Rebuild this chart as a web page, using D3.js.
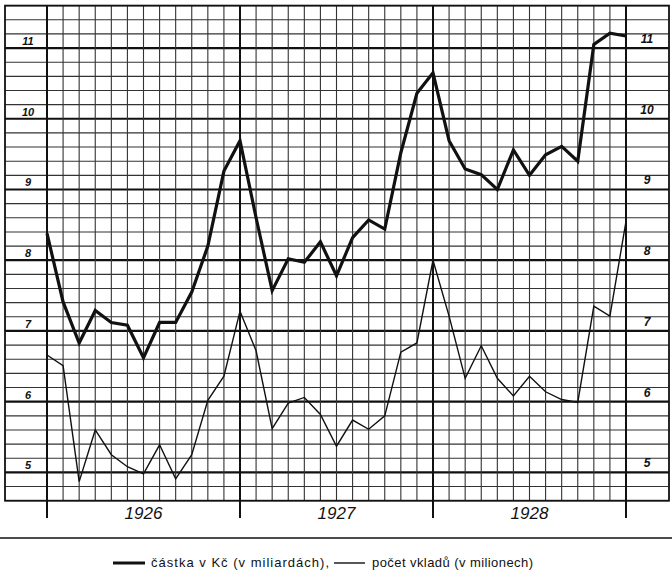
<!DOCTYPE html>
<html>
<head>
<meta charset="utf-8">
<script src="https://cdn.jsdelivr.net/npm/d3@7"></script>
<style>
  html, body { margin: 0; padding: 0; background: #fff; }
  svg { display: block; }
</style>
</head>
<body>
<svg id="chart" width="672" height="578"></svg>
<script>
// Monthly points, end of Dec 1925 .. end of Dec 1928 (37 points)
const years = ["1926", "1927", "1928"];
const amountBn = [8.38, 7.41, 6.83, 7.29, 7.12, 7.08, 6.62, 7.12, 7.12, 7.55, 8.20, 9.26,
                  9.69, 8.60, 7.57, 8.02, 7.97, 8.26, 7.78, 8.32, 8.57, 8.44, 9.52, 10.36,
                  10.65, 9.69, 9.29, 9.21, 9.00, 9.56, 9.20, 9.49, 9.61, 9.40, 11.05, 11.21,
                  11.17];
const depositsM = [6.66, 6.51, 4.87, 5.60, 5.25, 5.08, 4.98, 5.39, 4.91, 5.25, 6.02, 6.36,
                   7.28, 6.72, 5.62, 5.98, 6.06, 5.82, 5.37, 5.74, 5.61, 5.80, 6.70, 6.83,
                   8.00, 7.21, 6.33, 6.79, 6.33, 6.08, 6.36, 6.14, 6.03, 5.99, 7.35, 7.21,
                   8.55];
const yTicks = [5, 6, 7, 8, 9, 10, 11];
const legendLabels = ["částka v Kč (v miliardách),", "počet vkladů (v milionech)"];

const svg = d3.select("#chart");
const frameL = 5, frameR = 669;
const x = d3.scaleLinear().domain([0, 36]).range([47, 626]);
const y = d3.scaleLinear().domain([4.6, 11.6]).range([500.7, 5.6]);

const grid = svg.append("g");
// horizontal lines every 0.2
const hVals = d3.range(0, 36).map(k => +(4.6 + k * 0.2).toFixed(1));
grid.selectAll("line.h").data(hVals).enter().append("line")
  .attr("x1", frameL).attr("x2", frameR)
  .attr("y1", d => y(d)).attr("y2", d => y(d))
  .attr("stroke", d => Number.isInteger(d) ? "#111" : "#333")
  .attr("stroke-width", d => Number.isInteger(d) ? 2.2 : 1.1);

// vertical month lines
const vIdx = d3.range(0, 37);
grid.selectAll("line.v").data(vIdx).enter().append("line")
  .attr("x1", d => x(d)).attr("x2", d => x(d))
  .attr("y1", y(11.6))
  .attr("y2", d => d % 12 === 0 ? 518 : y(4.6))
  .attr("stroke", d => d % 12 === 0 ? "#111" : "#333")
  .attr("stroke-width", d => d % 12 === 0 ? 2 : 1.1);

// frame
grid.append("rect")
  .attr("x", frameL).attr("y", y(11.6))
  .attr("width", frameR - frameL).attr("height", y(4.6) - y(11.6))
  .attr("fill", "none").attr("stroke", "#111").attr("stroke-width", 1.8);

// axis labels left and right
const labelFont = "'Liberation Sans', Arial, sans-serif";
svg.append("g").selectAll("text").data(yTicks).enter().append("text")
  .attr("x", 28).attr("y", d => y(d) - 3)
  .attr("text-anchor", "middle")
  .attr("font-family", labelFont).attr("font-style", "italic").attr("font-weight", "bold")
  .attr("font-size", 11).attr("fill", "#111")
  .text(d => d);
svg.append("g").selectAll("text").data(yTicks).enter().append("text")
  .attr("x", 647).attr("y", d => y(d) - 5)
  .attr("text-anchor", "middle")
  .attr("font-family", labelFont).attr("font-style", "italic").attr("font-weight", "bold")
  .attr("font-size", 12).attr("fill", "#111")
  .text(d => d);

// year labels
svg.append("g").selectAll("text").data(years).enter().append("text")
  .attr("x", (d, i) => x(i * 12 + 6))
  .attr("y", 519)
  .attr("text-anchor", "middle")
  .attr("font-family", labelFont).attr("font-style", "italic")
  .attr("font-size", 17).attr("fill", "#111")
  .text(d => d);

// series
const line = d3.line().x((d, i) => x(i)).y(d => y(d));
svg.append("path").datum(depositsM)
  .attr("d", line).attr("fill", "none")
  .attr("stroke", "#111").attr("stroke-width", 1.4).attr("stroke-linejoin", "miter");
svg.append("path").datum(amountBn)
  .attr("d", line).attr("fill", "none")
  .attr("stroke", "#111").attr("stroke-width", 3.2).attr("stroke-linejoin", "miter");

// separator
svg.append("line").attr("x1", 0).attr("x2", 672).attr("y1", 538).attr("y2", 538)
  .attr("stroke", "#111").attr("stroke-width", 1.5);

// legend
const lg = svg.append("g").attr("font-family", labelFont).attr("font-size", 13).attr("fill", "#111");
lg.append("line").attr("x1", 113).attr("x2", 145).attr("y1", 563).attr("y2", 563)
  .attr("stroke", "#111").attr("stroke-width", 3);
lg.append("text").attr("x", 151).attr("y", 567)
  .attr("textLength", 178).attr("lengthAdjust", "spacing").text(legendLabels[0]);
lg.append("line").attr("x1", 334).attr("x2", 365).attr("y1", 563).attr("y2", 563)
  .attr("stroke", "#111").attr("stroke-width", 1.4);
lg.append("text").attr("x", 372).attr("y", 567)
  .attr("textLength", 161).attr("lengthAdjust", "spacing").text(legendLabels[1]);
</script>
</body>
</html>
